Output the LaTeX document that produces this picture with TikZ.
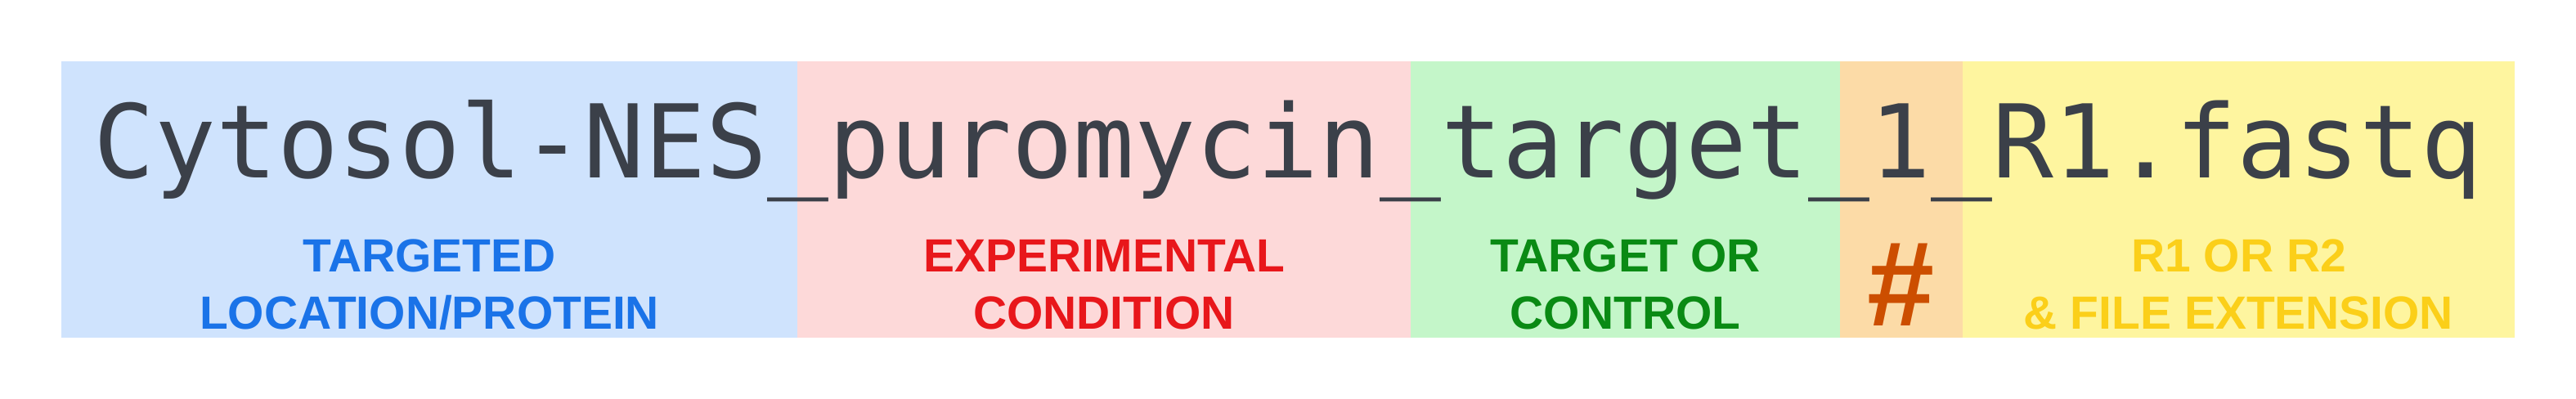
\documentclass[tikz,border=0pt]{standalone}
\usepackage{fontspec}
\setmainfont{Liberation Sans}
\newfontfamily\fnamefont{DejaVu Sans Mono}

\definecolor{locbg}{HTML}{CFE3FD}
\definecolor{condbg}{HTML}{FDD9D9}
\definecolor{ctrlbg}{HTML}{C4F6C9}
\definecolor{numbg}{HTML}{FCDBA7}
\definecolor{extbg}{HTML}{FEF59F}
\definecolor{loctxt}{HTML}{1A73E8}
\definecolor{condtxt}{HTML}{E8171B}
\definecolor{ctrltxt}{HTML}{0A8A14}
\definecolor{numtxt}{HTML}{CC4E00}
\definecolor{exttxt}{HTML}{FBCF19}
\definecolor{fnametxt}{HTML}{3B4049}

\begin{document}
\begin{tikzpicture}[
    lbl/.style={anchor=base, inner sep=0pt, font=\bfseries\fontsize{16.2}{19.9}\selectfont},
]
\useasboundingbox (0, 0) rectangle (31.5, 4.88);

% colour bands
\fill[locbg] (0.75, 0.75) rectangle (9.75, 4.13);
\fill[condbg] (9.75, 0.75) rectangle (17.25, 4.13);
\fill[ctrlbg] (17.25, 0.75) rectangle (22.5, 4.13);
\fill[numbg] (22.5, 0.75) rectangle (24, 4.13);
\fill[extbg] (24, 0.75) rectangle (30.75, 4.13);

% file name
\node[anchor=base, inner sep=0pt, text=fnametxt, font=\fnamefont\fontsize{35.4}{40}\selectfont] (fname) at (15.75, 2.703) {Cytosol-NES\_puromycin\_target\_1\_R1.fastq};

% field labels
\node[lbl, text=loctxt] (loc-a) at (5.25, 1.553) {TARGETED};
\node[lbl, text=loctxt] (loc-b) at (5.25, 0.85) {LOCATION/PROTEIN};

\node[lbl, text=condtxt] (cond-a) at (13.5, 1.553) {EXPERIMENTAL};
\node[lbl, text=condtxt] (cond-b) at (13.5, 0.85) {CONDITION};

\node[lbl, text=ctrltxt] (ctrl-a) at (19.875, 1.553) {TARGET OR};
\node[lbl, text=ctrltxt] (ctrl-b) at (19.875, 0.85) {CONTROL};

\node[anchor=base, inner sep=0pt, text=numtxt, font=\bfseries\fontsize{42}{42}\selectfont] (num) at (23.25, 0.89) {\#};

\node[lbl, text=exttxt] (ext-a) at (27.375, 1.553) {R1 OR R2};
\node[lbl, text=exttxt] (ext-b) at (27.375, 0.85) {\& FILE EXTENSION};

\end{tikzpicture}
\end{document}
